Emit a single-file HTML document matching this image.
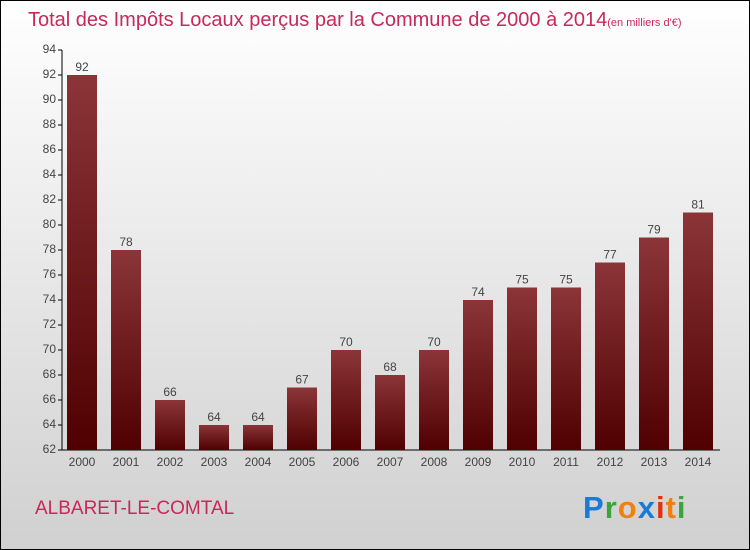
<!DOCTYPE html>
<html><head><meta charset="utf-8"><style>
body{margin:0;width:750px;height:550px;overflow:hidden;font-family:"Liberation Sans",sans-serif}
#frame{position:absolute;left:0;top:0;width:748px;height:548px;border:1px solid #000;background:linear-gradient(#ffffff,#d0d0d0)}
</style></head><body>
<div id="frame"></div>
<svg width="750" height="550" style="position:absolute;left:0;top:0">
<defs><linearGradient id="bg" x1="0" x2="0" y1="0" y2="1"><stop offset="0" stop-color="#8b3538"/><stop offset="1" stop-color="#500000"/></linearGradient></defs>
<text x="28" y="26" font-size="20" fill="#c8285a">Total des Impôts Locaux perçus par la Commune de 2000 à 2014<tspan font-size="11">(en milliers d'€)</tspan></text>
<g id="axes"></g><g id="bars"></g>
<text x="35" y="514" font-size="19" fill="#c8285a">ALBARET-LE-COMTAL</text>
<text x="583" y="518" font-size="31" font-weight="bold" letter-spacing="1"><tspan fill="#1a7ad4">P</tspan><tspan fill="#3aa63a">r</tspan><tspan fill="#f08010">o</tspan><tspan fill="#1a7ad4">x</tspan><tspan fill="#e03010">i</tspan><tspan fill="#f08010">t</tspan><tspan fill="#3aa63a">i</tspan></text>
</svg>
<script>
const categories=["2000","2001","2002","2003","2004","2005","2006","2007","2008","2009","2010","2011","2012","2013","2014"];
const values=[92,78,66,64,64,67,70,68,70,74,75,75,77,79,81];
const ticks=[62,64,66,68,70,72,74,76,78,80,82,84,86,88,90,92,94];
const NS="http://www.w3.org/2000/svg";
const y=v=>450-(v-62)*12.5;
const x=i=>67+i*44;
function mk(t,a,p){const e=document.createElementNS(NS,t);for(const k in a)e.setAttribute(k,a[k]);p.appendChild(e);return e;}
const ax=document.getElementById('axes'),bs=document.getElementById('bars');
let l=mk('line',{x1:62,y1:50,x2:62,y2:450,stroke:'#000'},ax);


l=mk('line',{x1:62,y1:450,x2:720,y2:450,stroke:'#000'},ax);


ticks.forEach(t=>{
 mk('line',{x1:58,x2:62,y1:y(t),y2:y(t),stroke:'#000'},ax);
 const tx=mk('text',{x:56,y:y(t)+3,'font-size':12,'text-anchor':'end',fill:'#444'},ax);
 tx.textContent=t;
 
 
});
categories.forEach((c,i)=>{
 const r=mk('rect',{x:x(i),y:y(values[i]),width:30,height:450-y(values[i]),fill:'url(#bg)'},bs);
 
 
 const v=mk('text',{x:x(i)+15,y:y(values[i])-4,'font-size':12,'text-anchor':'middle',fill:'#444'},bs);
 v.textContent=values[i];
 
 
 const t=mk('text',{x:x(i)+15,y:466,'font-size':12,'text-anchor':'middle',fill:'#444'},bs);
 t.textContent=c;
 
 
});
</script>
</body></html>
